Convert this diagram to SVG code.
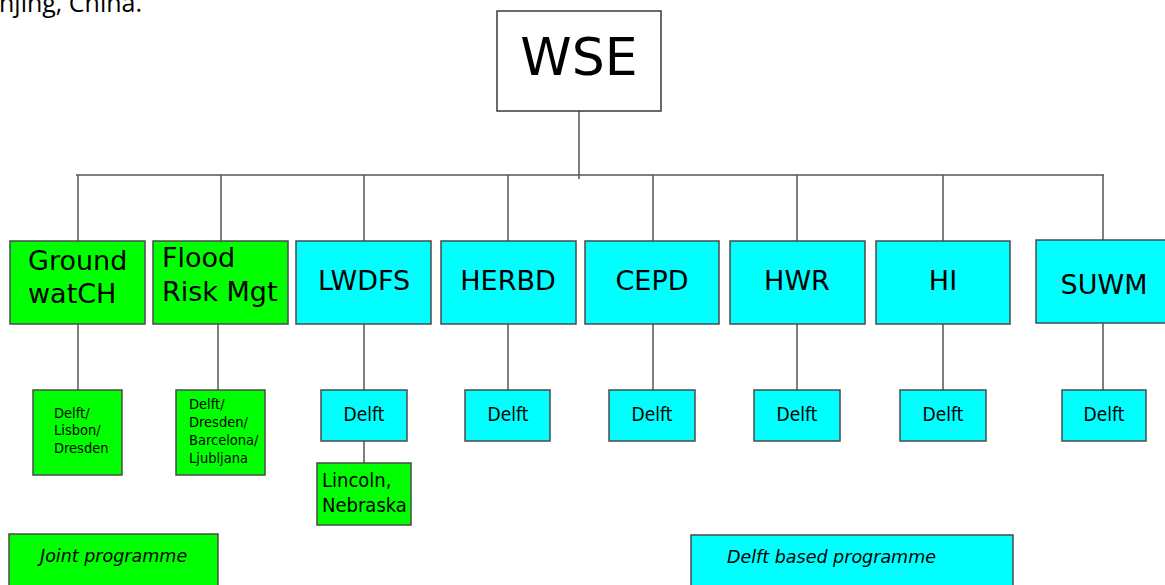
<svg xmlns="http://www.w3.org/2000/svg" width="1165" height="585" viewBox="0 0 1165 585">
<style>
.g{fill:#00ff00;stroke:#4a4a4a;stroke-width:1.5}
.c{fill:#00ffff;stroke:#4a4a4a;stroke-width:1.5}
.w{fill:#ffffff;stroke:#3a3a3a;stroke-width:1.5}
.big{font-family:"DejaVu Sans",Verdana,sans-serif;font-size:27px;fill:#000}
.sm{font-family:"DejaVu Sans Condensed","DejaVu Sans",sans-serif;font-size:19px;fill:#000;text-anchor:middle}
.xs{font-family:"DejaVu Sans Condensed","DejaVu Sans",sans-serif;font-size:14.5px;fill:#000}
.leg{font-family:"DejaVu Sans",sans-serif;font-style:italic;font-size:17.5px;fill:#000}
.mid{text-anchor:middle}
#conn line{stroke:#555;stroke-width:1.5}
</style>
<rect width="1165" height="585" fill="#fff"/>
<text x="-1" y="12" style="font-family:'Open Sans','Liberation Sans',sans-serif;font-size:25px" fill="#000">njing, China.</text>
<g id="conn">
<line x1="579" y1="111" x2="579" y2="179"/>
<line x1="76" y1="175" x2="1104" y2="175"/>
<line x1="78" y1="175" x2="78" y2="241"/>
<line x1="221" y1="175" x2="221" y2="241"/>
<line x1="364" y1="175" x2="364" y2="241"/>
<line x1="508" y1="175" x2="508" y2="241"/>
<line x1="653" y1="175" x2="653" y2="241"/>
<line x1="797" y1="175" x2="797" y2="241"/>
<line x1="943" y1="175" x2="943" y2="241"/>
<line x1="1103" y1="175" x2="1103" y2="240"/>
<line x1="78" y1="324" x2="78" y2="390"/>
<line x1="218" y1="324" x2="218" y2="390"/>
<line x1="364" y1="324" x2="364" y2="390"/>
<line x1="508" y1="324" x2="508" y2="390"/>
<line x1="653" y1="324" x2="653" y2="390"/>
<line x1="797" y1="324" x2="797" y2="390"/>
<line x1="943" y1="324" x2="943" y2="390"/>
<line x1="1103" y1="323" x2="1103" y2="390"/>
<line x1="364" y1="441" x2="364" y2="463"/>
</g>
<g id="wse"><rect class="w" x="497" y="11" width="164" height="100"/><text x="579" y="75" style="font-family:'DejaVu Sans',sans-serif;font-size:52px" text-anchor="middle">WSE</text></g>
<g id="groundwatch"><rect class="g" x="10" y="241" width="135" height="83"/><text class="big" x="28" y="270">Ground</text><text class="big" x="28" y="303">watCH</text></g>
<g id="flood"><rect class="g" x="153" y="241" width="135" height="83"/><text class="big" x="162" y="267">Flood</text><text class="big" x="162" y="301">Risk Mgt</text></g>
<g id="lwdfs"><rect class="c" x="296" y="241" width="135" height="83"/><text class="big mid" x="364" y="290">LWDFS</text></g>
<g id="herbd"><rect class="c" x="441" y="241" width="135" height="83"/><text class="big mid" x="508" y="290">HERBD</text></g>
<g id="cepd"><rect class="c" x="585" y="241" width="134" height="83"/><text class="big mid" x="652" y="290">CEPD</text></g>
<g id="hwr"><rect class="c" x="730" y="241" width="135" height="83"/><text class="big mid" x="797" y="290">HWR</text></g>
<g id="hi"><rect class="c" x="876" y="241" width="134" height="83"/><text class="big mid" x="943" y="290">HI</text></g>
<g id="suwm"><rect class="c" x="1036" y="240" width="135" height="83"/><text class="big mid" x="1104" y="294">SUWM</text></g>
<g id="gw-sub"><rect class="g" x="33" y="390" width="89" height="85"/><text class="xs" x="54" y="418">Delft/</text><text class="xs" x="54" y="435">Lisbon/</text><text class="xs" x="54" y="453">Dresden</text></g>
<g id="fr-sub"><rect class="g" x="176" y="390" width="89" height="85"/><text class="xs" x="189" y="409">Delft/</text><text class="xs" x="189" y="427">Dresden/</text><text class="xs" x="189" y="445">Barcelona/</text><text class="xs" x="189" y="463">Ljubljana</text></g>
<g id="lwdfs-sub"><rect class="c" x="321" y="390" width="86" height="51"/><text class="sm" x="364" y="421">Delft</text></g>
<g id="lincoln"><rect class="g" x="317" y="463" width="94" height="62"/><text class="sm" x="322" y="487" style="text-anchor:start;font-size:20px">Lincoln,</text><text class="sm" x="322" y="512" style="text-anchor:start;font-size:20px">Nebraska</text></g>
<g id="herbd-sub"><rect class="c" x="465" y="390" width="85" height="51"/><text class="sm" x="508" y="421">Delft</text></g>
<g id="cepd-sub"><rect class="c" x="609" y="390" width="86" height="51"/><text class="sm" x="652" y="421">Delft</text></g>
<g id="hwr-sub"><rect class="c" x="754" y="390" width="86" height="51"/><text class="sm" x="797" y="421">Delft</text></g>
<g id="hi-sub"><rect class="c" x="900" y="390" width="86" height="51"/><text class="sm" x="943" y="421">Delft</text></g>
<g id="suwm-sub"><rect class="c" x="1062" y="390" width="84" height="51"/><text class="sm" x="1104" y="421">Delft</text></g>
<g id="legend-joint"><rect class="g" x="9" y="534" width="209" height="60"/><text class="leg" x="40" y="562">Joint programme</text></g>
<g id="legend-delft"><rect class="c" x="691" y="535" width="322" height="60"/><text class="leg" x="727" y="563">Delft based programme</text></g>
</svg>
